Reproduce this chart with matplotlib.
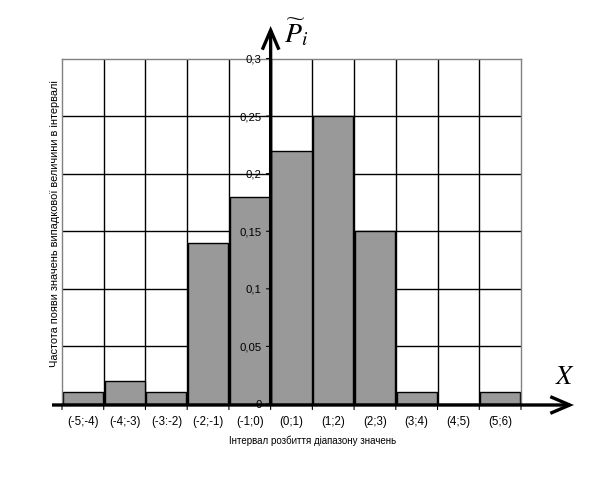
import matplotlib
matplotlib.use("Agg")
import matplotlib.pyplot as plt
from matplotlib.patches import FancyArrowPatch
import numpy as np

categories = ["(-5;-4)", "(-4;-3)", "(-3:-2)", "(-2;-1)", "(-1;0)", "(0;1)",
              "(1;2)", "(2;3)", "(3;4)", "(4;5)", "(5;6)"]
values = [0.01, 0.02, 0.01, 0.14, 0.18, 0.22, 0.25, 0.15, 0.01, 0.0, 0.01]
yticks = [0, 0.05, 0.1, 0.15, 0.2, 0.25, 0.3]
ytick_labels = ["0", "0,05", "0,1", "0,15", "0,2", "0,25", "0,3"]
ylabel = "Частота появи значень випадкової величини в інтервалі"
xlabel = "Інтервал розбиття діапазону значень"

W, H = 597, 485
fig = plt.figure(figsize=(W / 100, H / 100), dpi=100)
L, R, T, B = 62, 521, 59.5, 405
ax = fig.add_axes([L / W, (H - B) / H, (R - L) / W, (B - T) / H])

n = len(categories)
x = np.arange(n) + 0.5
ax.set_xlim(0, n)
ax.set_ylim(0, 0.3)

# grid
for b in range(1, n):
    ax.axvline(b, color="black", lw=1.0, zorder=1)
for yv in yticks[1:-1]:
    ax.axhline(yv, color="black", lw=1.0, zorder=1)

ax.bar(x, values, width=0.96, color="#999999", edgecolor="black", lw=1.0, zorder=2)

for s in ["left", "top", "right"]:
    ax.spines[s].set_color("#808080")
    ax.spines[s].set_linewidth(1.0)
ax.spines["bottom"].set_visible(False)
ax.set_xticks([])
ax.set_yticks([])

font = "Liberation Sans"
# y tick labels near the central axis
for yv, lab in zip(yticks, ytick_labels):
    ax.annotate(lab, xy=(5, yv), xytext=(-6.5, 0), textcoords="offset points",
                ha="right", va="center", fontsize=8.2, family=font, zorder=5)
    ax.annotate("", xy=(5, yv), xytext=(-3, 0), textcoords="offset points",
                arrowprops=dict(arrowstyle="-", lw=0.8, color="black",
                                shrinkA=0, shrinkB=0), zorder=5)

# small ticks below the x axis at the boundaries
for b in range(0, n + 1):
    ax.annotate("", xy=(b, 0), xytext=(0, -4), textcoords="offset points",
                arrowprops=dict(arrowstyle="-", lw=0.8, color="black",
                                shrinkA=0, shrinkB=0), annotation_clip=False, zorder=5)

# category labels
for xi, lab in zip(x, categories):
    ax.annotate(lab, xy=(xi, 0), xytext=(0, -12.5), textcoords="offset points",
                ha="center", va="center", fontsize=8.3, family=font,
                annotation_clip=False)

def px(xp, yp):
    return (xp / W, 1 - yp / H)

arrow_style = "->,head_length=14,head_width=6"
# vertical arrow (y axis) at the boundary x=5
x5 = L + 5 * (R - L) / n
fig.add_artist(FancyArrowPatch(px(x5, B + 1), px(x5, 27), transform=fig.transFigure,
                               arrowstyle=arrow_style, lw=2.4, color="black",
                               mutation_scale=1, shrinkA=0, shrinkB=0, zorder=6,
                               capstyle="butt", joinstyle="miter"))
# horizontal arrow (x axis)
fig.add_artist(FancyArrowPatch(px(52, B + 1), px(574, B + 1), transform=fig.transFigure,
                               arrowstyle=arrow_style, lw=2.4, color="black",
                               mutation_scale=1, shrinkA=0, shrinkB=0, zorder=6,
                               capstyle="butt", joinstyle="miter"))

# axis symbols
fig.text(284 / W, 1 - 32 / H, r"$\widetilde{P}_i$", fontsize=20,
         ha="left", va="center", math_fontfamily="stix")
fig.text(555 / W, 1 - 377 / H, r"$X$", fontsize=19, ha="left", va="center",
         math_fontfamily="stix")

fig.text(55 / W, 1 - 224 / H, ylabel, rotation=90, ha="center", va="center",
         fontsize=7.9, family=font)
fig.text(313 / W, 1 - 441 / H, xlabel, ha="center", va="center",
         fontsize=7, family=font)

fig.savefig("out.png", dpi=100)
